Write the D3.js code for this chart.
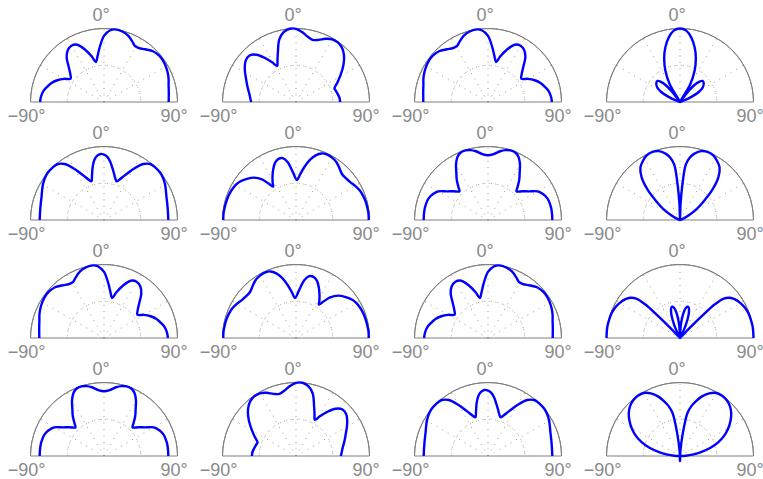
<!DOCTYPE html>
<html>
<head>
<meta charset="utf-8">
<script src="https://cdn.jsdelivr.net/npm/d3@7"></script>
<style>
  html, body { margin: 0; padding: 0; background: #ffffff; }
  svg { display: block; }
  text { font-family: "Liberation Sans", Arial, sans-serif; }
</style>
</head>
<body>
<svg id="chart" width="763" height="479"></svg>
<script>
// Radiation patterns: [angle in degrees, normalised radius]
const patternA = [[-90,0.87],[-85,0.86],[-80,0.84],[-75,0.80],[-70,0.76],[-65,0.70],[-60,0.63],[-55,0.555],[-50,0.60],[-45,0.68],[-40,0.79],[-35,0.86],[-30,0.885],[-25,0.86],[-20,0.76],[-15,0.64],[-11.5,0.555],[-8,0.63],[-5,0.73],[0,0.9],[5,0.98],[9,1.0],[15,0.99],[20,0.96],[25,0.91],[29,0.87],[33,0.875],[38,0.91],[44,0.96],[50,0.98],[55,0.98],[60,0.97],[65,0.955],[70,0.935],[75,0.91],[80,0.895],[85,0.885],[90,0.88]];

const patternAm = [[-90,0.88],[-85,0.885],[-80,0.895],[-75,0.91],[-70,0.935],[-65,0.955],[-60,0.97],[-55,0.98],[-50,0.98],[-44,0.96],[-38,0.91],[-33,0.875],[-29,0.87],[-25,0.91],[-20,0.96],[-15,0.99],[-9,1.0],[-5,0.98],[0,0.9],[5,0.73],[8,0.63],[11.5,0.555],[15,0.64],[20,0.76],[25,0.86],[30,0.885],[35,0.86],[40,0.79],[45,0.68],[50,0.60],[55,0.555],[60,0.63],[65,0.70],[70,0.76],[75,0.80],[80,0.84],[85,0.86],[90,0.87]];

const patternB = [[-90,0.61],[-85,0.625],[-80,0.645],[-75,0.675],[-70,0.71],[-65,0.75],[-60,0.80],[-55,0.85],[-50,0.89],[-45,0.895],[-40,0.84],[-35,0.73],[-31,0.63],[-27.5,0.555],[-24,0.62],[-20,0.72],[-15,0.88],[-10,0.965],[-5,1.0],[0,0.995],[5,0.955],[10,0.905],[15,0.875],[20,0.90],[25,0.95],[30,0.985],[35,0.99],[40,0.97],[45,0.92],[50,0.85],[55,0.77],[60,0.69],[65,0.62],[70.5,0.556],[75,0.565],[80,0.58],[85,0.595],[90,0.60]];

const patternBm = [[-90,0.60],[-85,0.595],[-80,0.58],[-75,0.565],[-70.5,0.556],[-65,0.62],[-60,0.69],[-55,0.77],[-50,0.85],[-45,0.92],[-40,0.97],[-35,0.99],[-30,0.985],[-25,0.95],[-20,0.90],[-15,0.875],[-10,0.905],[-5,0.955],[0,0.995],[5,1.0],[10,0.965],[15,0.88],[20,0.72],[24,0.62],[27.5,0.555],[31,0.63],[35,0.73],[40,0.84],[45,0.895],[50,0.89],[55,0.85],[60,0.80],[65,0.75],[70,0.71],[75,0.675],[80,0.645],[85,0.625],[90,0.61]];

const patternC = [[-90,0.875],[-85,0.875],[-80,0.88],[-75,0.89],[-70,0.905],[-65,0.93],[-60,0.96],[-55,0.985],[-50,1.0],[-45,1.0],[-40,0.99],[-35,0.93],[-30,0.8],[-25,0.67],[-21,0.59],[-18,0.555],[-15,0.63],[-12,0.74],[-9,0.83],[-6,0.88],[-3,0.9],[0,0.89],[3,0.86],[6,0.8],[9,0.72],[12,0.65],[15,0.59],[18,0.555],[21,0.59],[25,0.67],[30,0.8],[35,0.93],[40,0.99],[45,1.0],[50,1.0],[55,0.985],[60,0.96],[65,0.93],[70,0.905],[75,0.89],[80,0.88],[85,0.875],[90,0.875]];

const patternD = [[-90,0.99],[-85,0.99],[-80,0.985],[-75,0.98],[-70,0.975],[-65,0.965],[-60,0.95],[-55,0.92],[-50,0.87],[-45,0.815],[-40,0.72],[-37,0.62],[-34.5,0.55],[-32,0.6],[-28,0.68],[-24,0.76],[-20,0.83],[-16,0.865],[-12,0.86],[-8,0.79],[-4,0.66],[1.5,0.545],[5,0.62],[9,0.73],[13,0.84],[17,0.92],[21,0.97],[25,0.985],[30,0.98],[35,0.96],[40,0.92],[45,0.885],[50,0.885],[55,0.90],[60,0.93],[65,0.955],[70,0.97],[75,0.98],[80,0.985],[85,0.99],[90,0.99]];

const patternDm = [[-90,0.99],[-85,0.99],[-80,0.985],[-75,0.98],[-70,0.97],[-65,0.955],[-60,0.93],[-55,0.90],[-50,0.885],[-45,0.885],[-40,0.92],[-35,0.96],[-30,0.98],[-25,0.985],[-21,0.97],[-17,0.92],[-13,0.84],[-9,0.73],[-5,0.62],[-1.5,0.545],[4,0.66],[8,0.79],[12,0.86],[16,0.865],[20,0.83],[24,0.76],[28,0.68],[32,0.6],[34.5,0.55],[37,0.62],[40,0.72],[45,0.815],[50,0.87],[55,0.92],[60,0.95],[65,0.965],[70,0.975],[75,0.98],[80,0.985],[85,0.99],[90,0.99]];

const patternE = [[-90,0.875],[-85,0.875],[-80,0.875],[-75,0.87],[-70,0.86],[-65,0.83],[-60,0.78],[-55,0.68],[-50,0.61],[-45,0.55],[-42,0.6],[-38,0.69],[-34,0.77],[-30,0.87],[-26,0.95],[-22,0.99],[-18,0.995],[-14,0.98],[-10,0.95],[-5,0.9],[0,0.88],[5,0.9],[10,0.95],[14,0.98],[18,0.995],[22,0.99],[26,0.95],[30,0.87],[34,0.77],[38,0.69],[42,0.6],[45,0.55],[50,0.61],[55,0.68],[60,0.78],[65,0.83],[70,0.86],[75,0.87],[80,0.875],[85,0.875],[90,0.875]];

const patternF = [[-90,0],[-72,0],[-70,0.04],[-66,0.17],[-62,0.29],[-57,0.37],[-52,0.41],[-47,0.42],[-42,0.35],[-38,0.2],[-35,0],[-30,0.28],[-25,0.47],[-20,0.63],[-15,0.77],[-10,0.89],[-5,0.975],[0,1.0],[5,0.975],[10,0.89],[15,0.77],[20,0.63],[25,0.47],[30,0.28],[35,0],[38,0.2],[42,0.35],[47,0.42],[52,0.41],[57,0.37],[62,0.29],[66,0.17],[70,0.04],[72,0],[90,0]];

const patternG = [[-90,0],[-75,0],[-68,0.04],[-62,0.13],[-57,0.26],[-52,0.40],[-47,0.6],[-42,0.78],[-37,0.895],[-32,0.95],[-27,0.99],[-22,1.0],[-17,0.98],[-12,0.92],[-9,0.86],[-6,0.76],[-4,0.5],[-2,0.22],[0,0],[2,0.22],[4,0.5],[6,0.76],[9,0.86],[12,0.92],[17,0.98],[22,1.0],[27,0.99],[32,0.95],[37,0.895],[42,0.78],[47,0.6],[52,0.40],[57,0.26],[62,0.13],[68,0.04],[75,0],[90,0]];

const patternH = [[-90,1.0],[-85,1.0],[-80,1.0],[-75,0.995],[-70,0.99],[-65,0.975],[-60,0.95],[-55,0.915],[-51,0.87],[-48,0.8],[-46,0.66],[-45,0.45],[-44,0.22],[-43,0],[-28,0],[-25,0.145],[-22,0.275],[-19,0.375],[-16,0.43],[-14,0.44],[-12,0.43],[-9,0.375],[-6,0.275],[-3,0.145],[0,0],[3,0.145],[6,0.275],[9,0.375],[12,0.43],[14,0.44],[16,0.43],[19,0.375],[22,0.275],[25,0.145],[28,0],[43,0],[44,0.22],[45,0.45],[46,0.66],[48,0.8],[51,0.87],[55,0.915],[60,0.95],[65,0.975],[70,0.99],[75,0.995],[80,1.0],[85,1.0],[90,1.0]];

const patternI = [[-90,0],[-87,0.08],[-84,0.17],[-80,0.28],[-75,0.43],[-70,0.56],[-65,0.67],[-60,0.76],[-55,0.84],[-50,0.91],[-45,0.96],[-40,0.99],[-35,1.0],[-30,0.99],[-25,0.94],[-20,0.86],[-16,0.77],[-13,0.7],[-10,0.6],[-8,0.42],[-6,0.2],[-4,0],[-2,-0.05],[0,-0.07],[2,-0.05],[4,0],[6,0.2],[8,0.42],[10,0.6],[13,0.7],[16,0.77],[20,0.86],[25,0.94],[30,0.99],[35,1.0],[40,0.99],[45,0.96],[50,0.91],[55,0.84],[60,0.76],[65,0.67],[70,0.56],[75,0.43],[80,0.28],[84,0.17],[87,0.08],[90,0]];

// Which pattern sits in each row/column of the grid
const panelGrid = [
  [patternA,  patternB,  patternAm, patternF],
  [patternC,  patternD,  patternE,  patternG],
  [patternAm, patternDm, patternA,  patternH],
  [patternE,  patternBm, patternC,  patternI]
];

const spokeAngles = [-60, -30, 0, 30, 60];
const ringValues = [0.5];
const angleLabels = [
  { angle: -90, text: "\u221290\u00B0" },
  { angle: 0,   text: "0\u00B0" },
  { angle: 90,  text: "90\u00B0" }
];

const svg = d3.select("#chart");
const R = 73.5;

const colX = d3.scaleLinear().domain([0, 3]).range([104, 680]);
const rowY = d3.scaleLinear().domain([0, 3]).range([102, 456]);
const rScale = d3.scaleLinear().domain([0, 1]).range([0, R]);
const aScale = d3.scaleLinear().domain([-90, 90]).range([-Math.PI / 2, Math.PI / 2]);

const gridColor = "#9a9a9a";
const frameColor = "#808080";
const labelColor = "#8a8a8a";

const patternLine = d3.lineRadial()
  .angle(d => aScale(d[0]))
  .radius(d => rScale(d[1]))
  .curve(d3.curveCatmullRom.alpha(0.5));

const halfArc = r => d3.arc()
  .innerRadius(r).outerRadius(r)
  .startAngle(-Math.PI / 2).endAngle(Math.PI / 2)();

panelGrid.forEach((row, i) => {
  row.forEach((pattern, j) => {
    const g = svg.append("g")
      .attr("transform", `translate(${colX(j)},${rowY(i)})`);

    // dotted rings and spokes
    g.selectAll("path.ring").data(ringValues).join("path")
      .attr("class", "ring")
      .attr("d", v => halfArc(rScale(v)))
      .attr("fill", "none")
      .attr("stroke", gridColor)
      .attr("stroke-width", 1)
      .attr("stroke-dasharray", "1,5.5");

    g.selectAll("line.spoke").data(spokeAngles).join("line")
      .attr("class", "spoke")
      .attr("x1", 0).attr("y1", 0)
      .attr("x2", a => rScale(1) * Math.sin(aScale(a)))
      .attr("y2", a => -rScale(1) * Math.cos(aScale(a)))
      .attr("stroke", gridColor)
      .attr("stroke-width", 1)
      .attr("stroke-dasharray", "1,5.5");

    // outer frame: half circle and baseline
    g.append("path")
      .attr("d", halfArc(rScale(1)))
      .attr("fill", "none")
      .attr("stroke", frameColor)
      .attr("stroke-width", 1);
    g.append("line")
      .attr("x1", -rScale(1)).attr("x2", rScale(1))
      .attr("y1", 0).attr("y2", 0)
      .attr("stroke", frameColor)
      .attr("stroke-width", 1);

    // pattern curve
    g.append("path")
      .datum(pattern)
      .attr("d", patternLine)
      .attr("fill", "none")
      .attr("stroke", "#0000ff")
      .attr("stroke-width", 2.4)
      .attr("stroke-linejoin", "round");

    // angle labels
    g.selectAll("text").data(angleLabels).join("text")
      .attr("x", d => d.angle === 0 ? -3 : (d.angle < 0 ? -rScale(1) - 4 : rScale(1) - 3.5))
      .attr("y", d => d.angle === 0 ? -rScale(1) - 8 : 20)
      .attr("text-anchor", "middle")
      .attr("fill", labelColor)
      .attr("font-size", 18)
      .text(d => d.text);
  });
});
</script>
</body>
</html>
